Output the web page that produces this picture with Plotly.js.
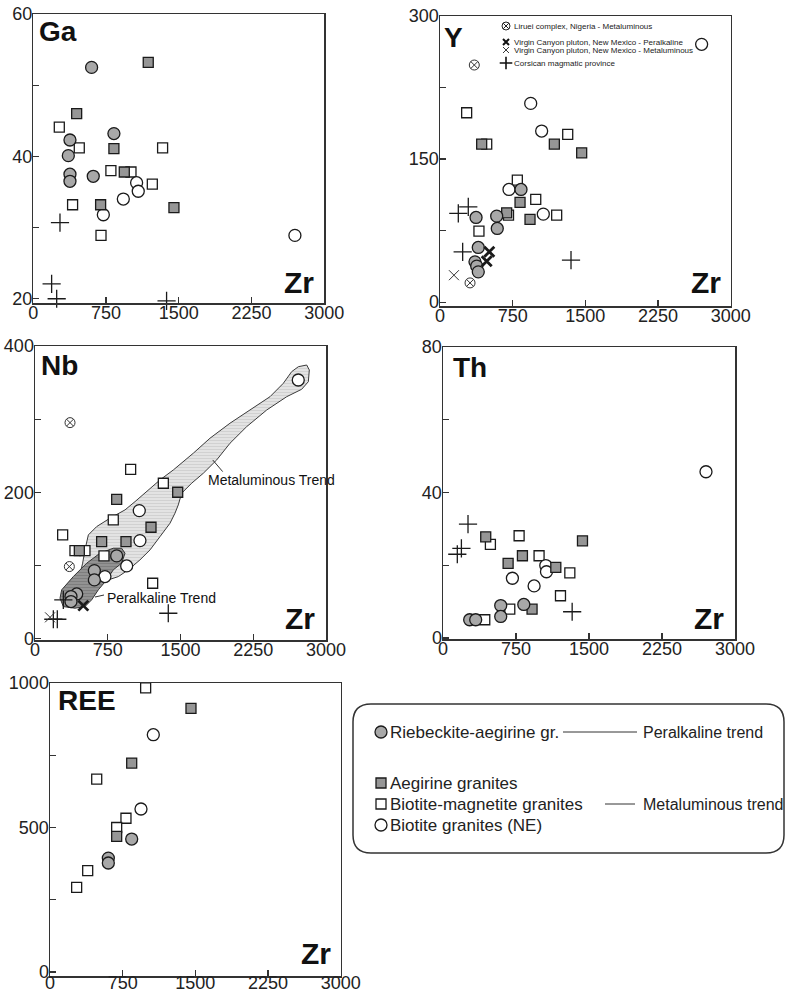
<!DOCTYPE html>
<html>
<head>
<meta charset="utf-8">
<script src="https://cdn.plot.ly/plotly-3.0.1.min.js"></script>
<style>html,body{margin:0;padding:0;background:#fff;}#chart{width:786px;height:993px;}</style>
</head>
<body>
<div id="chart"></div>
<script>
// ---------------- DATA ----------------
const zrTicks = [0, 750, 1500, 2250, 3000];
const zrTickText = ['0', '750', '1500', '2250', '3000'];

// Ga vs Zr
const gaRiebZr = [601, 831, 378, 361, 378, 378, 618];
const gaRiebV  = [52.5, 43.2, 42.3, 40.1, 37.5, 36.5, 37.2];
const gaAegZr  = [1185, 447, 831, 938, 694, 1450];
const gaAegV   = [53.2, 46.0, 41.1, 37.8, 33.2, 32.8];
const gaBmZr   = [268, 474, 1333, 800, 1007, 1227, 405, 698];
const gaBmV    = [44.1, 41.2, 41.2, 38.0, 37.8, 36.1, 33.2, 28.9];
const gaBgZr   = [1065, 1082, 928, 722, 2697];
const gaBgV    = [36.3, 35.1, 34.0, 31.8, 28.9];
const gaCorZr  = [275, 189, 241, 1374];
const gaCorV   = [30.7, 22.1, 20.0, 19.7];
const gaTicks = [20, 30, 40, 50, 60];
const gaTickText = ['20', '', '40', '', '60'];

// Y vs Zr
const yRiebZr = [372, 395, 361, 379, 395, 585, 591, 836];
const yRiebV  = [88.8, 57.4, 42.3, 37.8, 31.8, 90.2, 77.3, 118.2];
const yAegZr  = [430, 1180, 1462, 688, 826, 929];
const yAegV   = [165.7, 165.7, 156.6, 93.7, 104.6, 86.8];
const yBmZr   = [275, 482, 1318, 798, 988, 1204, 707, 402];
const yBmV    = [198.6, 165.7, 175.9, 128.0, 107.7, 91.3, 91.3, 74.5];
const yBgZr   = [2700, 936, 1049, 712, 1066];
const yBgV    = [270.3, 208.4, 179.4, 118.2, 92.3];
const yLirZr  = [354, 310];
const yLirV   = [248.6, 20.2];
const yCorZr  = [189, 292, 234, 1352];
const yCorV   = [93.0, 100.0, 52.8, 44.0];
const yVcpZr  = [509, 482];
const yVcpV   = [52.8, 43.0];
const yVcmZr  = [144];
const yVcmV   = [28.3];
const yTicks = [0, 75, 150, 225, 300];
const yTickText = ['0', '', '150', '', '300'];

// Nb vs Zr
const nbRiebZr = [842, 612, 612, 430, 371, 371];
const nbRiebV  = [113.0, 92.9, 80.2, 61.0, 57.4, 50.6];
const nbAegZr  = [842, 1471, 1196, 687, 938, 457];
const nbAegV   = [190.4, 200.0, 152.2, 132.6, 132.6, 120.3];
const nbBmZr   = [986, 1323, 807, 285, 412, 515, 711, 1213];
const nbBmV    = [231.4, 212.3, 162.2, 141.7, 120.3, 120.3, 113.0, 75.6];
const nbBgZr   = [2714, 1075, 1082, 945, 721];
const nbBgV    = [353.5, 174.9, 133.9, 99.3, 84.7];
const nbLirZr  = [361, 354];
const nbLirV   = [295.2, 98.4];
const nbCorZr  = [292, 189, 230, 1374];
const nbCorV   = [52.8, 26.4, 26.4, 34.6];
const nbVcpZr  = [498];
const nbVcpV   = [45.0];
const nbVcmZr  = [155];
const nbVcmV   = [29.0];
const nbTicks = [0, 100, 200, 300, 400];
const nbTickText = ['0', '', '200', '', '400'];
// trend fields (outline vertices, Zr / Nb)
const metaTrendZr = [491, 515, 550, 636, 773, 928, 1031, 1151, 1289, 1426, 1632, 1804, 2010, 2216, 2423, 2560, 2646, 2715, 2801, 2828, 2818, 2749,
                     2595, 2389, 2182, 2010, 1873, 1735, 1615, 1512, 1477, 1443, 1392, 1289, 1186, 1082, 962, 859, 756, 636, 533, 471, 491];
const metaTrendNb = [103.0, 121.2, 141.7, 153.1, 164.5, 175.9, 187.2, 200.9, 216.9, 230.5, 253.4, 273.9, 294.4, 312.5, 330.7, 349.0, 364.9, 371.7, 374.0, 367.2, 351.2, 340.8,
                     330.7, 312.5, 289.7, 267.0, 244.2, 226.0, 212.4, 198.7, 182.7, 171.4, 157.7, 139.4, 121.2, 107.5, 93.9, 84.7, 80.2, 77.9, 80.2, 91.6, 103.0];
const peraTrendZr = [275, 395, 533, 670, 807, 893, 928, 893, 807, 739, 653, 584, 515, 412, 292, 258, 275];
const peraTrendNb = [66.6, 84.7, 103.0, 116.7, 123.5, 123.5, 116.7, 103.0, 93.9, 80.2, 66.6, 52.9, 43.7, 41.5, 43.7, 55.2, 66.6];
const metaLeaderZr = [1832, 1935];
const metaLeaderNb = [244.2, 228.2];

// Th vs Zr
const thRiebZr = [593, 593, 830, 274, 336];
const thRiebV  = [8.9, 5.9, 9.2, 5.0, 5.0];
const thAegZr  = [439, 1433, 816, 669, 1159, 915];
const thAegV   = [27.8, 26.7, 22.6, 20.5, 19.4, 7.9];
const thBmZr   = [782, 487, 987, 1303, 1207, 686, 429];
const thBmV    = [28.1, 25.7, 22.6, 17.9, 11.6, 7.9, 5.0];
const thBgZr   = [2702, 1056, 1063, 713, 936];
const thBgV    = [45.7, 19.9, 18.2, 16.4, 14.3];
const thCorZr  = [257, 189, 147, 1327];
const thCorV   = [31.3, 24.6, 23.0, 7.2];
const thTicks = [0, 20, 40, 60, 80];
const thTickText = ['0', '', '40', '', '80'];

// REE vs Zr
const reeRiebZr = [843, 602, 602];
const reeRiebV  = [460, 394, 377];
const reeAegZr  = [1455, 843, 688];
const reeAegV   = [912, 723, 469];
const reeBmZr   = [987, 482, 784, 688, 389, 275];
const reeBmV    = [983, 667, 532, 500, 351, 293];
const reeBgZr   = [1066, 939];
const reeBgV    = [821, 564];
const reeTicks = [0, 250, 500, 750, 1000];
const reeTickText = ['0', '', '500', '', '1000'];

// legend texts
const legendMain = ['Riebeckite-aegirine gr.', 'Aegirine granites', 'Biotite-magnetite granites', 'Biotite granites (NE)'];
const legendTrends = ['Peralkaline trend', 'Metaluminous trend'];
const legendSmall = ['Liruei complex, Nigeria - Metaluminous', 'Virgin Canyon pluton, New Mexico - Peralkaline', 'Virgin Canyon pluton, New Mexico - Metaluminous', 'Corsican magmatic province'];

// ---------------- LAYOUT / STYLE ----------------
const W = 786, H = 993;
const FONT = 'Liberation Sans, Arial, Helvetica, sans-serif';
const INK = '#1a1a1a';

const S_RIEB = {symbol: 'circle', size: 12, color: '#a8a8a8', line: {color: INK, width: 1.3}};
const S_AEG  = {symbol: 'square', size: 10, color: '#969696', line: {color: INK, width: 1.3}};
const S_BM   = {symbol: 'square', size: 10, color: '#ffffff', line: {color: INK, width: 1.3}};
const S_BG   = {symbol: 'circle', size: 12, color: '#ffffff', line: {color: INK, width: 1.3}};
const S_LIR  = {symbol: 'circle-x-open', size: 10, color: '#333', line: {width: 1}};
const S_COR  = {symbol: 'cross-thin-open', size: 13, color: INK, line: {width: 1.3}};
const S_VCP  = {symbol: 'x-thin-open', size: 10, color: INK, line: {width: 2.8}};
const S_VCM  = {symbol: 'x-thin-open', size: 10, color: '#333', line: {width: 1}};

// panel frames in pixels [left, right, top, bottom]
const boxes = {
  1: [33.3, 324.3, 14, 303],
  2: [440, 730.7, 16, 306],
  3: [35, 326, 346, 640],
  4: [443, 735, 347, 639],
  5: [50, 340.7, 683, 976]
};
const yRanges = {1: [19.4, 60], 2: [-4, 300], 3: [-2, 400], 4: [-0.3, 80], 5: [-14, 1000]};
const yTickSets = {1: [gaTicks, gaTickText], 2: [yTicks, yTickText], 3: [nbTicks, nbTickText], 4: [thTicks, thTickText], 5: [reeTicks, reeTickText]};
const xStandoff = {1: -7, 2: -7, 3: -7, 4: -7, 5: -10};

const layout = {
  width: W, height: H,
  margin: {l: 0, r: 0, t: 0, b: 0},
  paper_bgcolor: '#ffffff',
  plot_bgcolor: 'rgba(0,0,0,0)',
  showlegend: false,
  font: {family: FONT, color: '#222'},
  annotations: [],
  shapes: []
};
const tickFont = {family: FONT, size: 18, color: '#222'};
for (let i = 1; i <= 5; i++) {
  const b = boxes[i];
  const sfx = i === 1 ? '' : String(i);
  layout['xaxis' + sfx] = {
    domain: [b[0] / W, b[1] / W], range: [0, 3000], anchor: 'y' + sfx,
    tickmode: 'array', tickvals: zrTicks, ticktext: zrTickText,
    ticks: 'inside', ticklen: 6, tickwidth: 1.2, tickcolor: '#333',
    showline: true, mirror: true, linecolor: '#333', linewidth: 1.5,
    showgrid: false, zeroline: false, tickfont: tickFont, fixedrange: true,
    ticklabelstandoff: xStandoff[i]
  };
  layout['yaxis' + sfx] = {
    domain: [1 - b[3] / H, 1 - b[2] / H], range: yRanges[i], anchor: 'x' + sfx,
    tickmode: 'array', tickvals: yTickSets[i][0], ticktext: yTickSets[i][1],
    ticks: 'inside', ticklen: 6, tickwidth: 1.2, tickcolor: '#333',
    showline: true, mirror: true, linecolor: '#333', linewidth: 1.5,
    showgrid: false, zeroline: false, tickfont: tickFont, fixedrange: true,
    ticklabelstandoff: -4
  };
}
// overlay pixel axis for labels / legend keys
layout.xaxis6 = {domain: [0, 1], range: [0, W], anchor: 'y6', visible: false, fixedrange: true};
layout.yaxis6 = {domain: [0, 1], range: [H, 0], anchor: 'x6', visible: false, fixedrange: true};

const traces = [];
function pts(i, xs, ys, m) {
  const sfx = i === 1 ? '' : String(i);
  traces.push({type: 'scatter', mode: 'markers', x: xs, y: ys, xaxis: 'x' + sfx, yaxis: 'y' + sfx,
    marker: m, cliponaxis: false, hoverinfo: 'skip'});
}

// Nb trend fields first (underneath)
traces.push({type: 'scatter', mode: 'lines', x: metaTrendZr, y: metaTrendNb, xaxis: 'x3', yaxis: 'y3',
  fill: 'toself', fillcolor: '#e0e0e0',
  fillpattern: {shape: '-', bgcolor: '#e3e3e3', fgcolor: '#cfcfcf', size: 3, solidity: 0.3},
  line: {color: '#3a3a3a', width: 1}, hoverinfo: 'skip'});
traces.push({type: 'scatter', mode: 'lines', x: peraTrendZr, y: peraTrendNb, xaxis: 'x3', yaxis: 'y3',
  fill: 'toself', fillcolor: '#8e8e8e',
  fillpattern: {shape: '-', bgcolor: '#929292', fgcolor: '#7c7c7c', size: 3, solidity: 0.3},
  line: {color: '#333', width: 1}, hoverinfo: 'skip'});
traces.push({type: 'scatter', mode: 'lines', x: metaLeaderZr, y: metaLeaderNb, xaxis: 'x3', yaxis: 'y3',
  line: {color: '#333', width: 1}, hoverinfo: 'skip'});

// panel 1 Ga
pts(1, gaBmZr, gaBmV, S_BM); pts(1, gaBgZr, gaBgV, S_BG); pts(1, gaAegZr, gaAegV, S_AEG);
pts(1, gaRiebZr, gaRiebV, S_RIEB); pts(1, gaCorZr, gaCorV, S_COR);
// panel 2 Y
pts(2, yBmZr, yBmV, S_BM); pts(2, yBgZr, yBgV, S_BG); pts(2, yAegZr, yAegV, S_AEG);
pts(2, yRiebZr, yRiebV, S_RIEB); pts(2, yLirZr, yLirV, S_LIR); pts(2, yCorZr, yCorV, S_COR);
pts(2, yVcpZr, yVcpV, S_VCP); pts(2, yVcmZr, yVcmV, S_VCM);
// panel 3 Nb
pts(3, nbBmZr, nbBmV, S_BM); pts(3, nbBgZr, nbBgV, S_BG); pts(3, nbAegZr, nbAegV, S_AEG);
pts(3, nbRiebZr, nbRiebV, S_RIEB); pts(3, nbLirZr, nbLirV, S_LIR); pts(3, nbCorZr, nbCorV, S_COR);
pts(3, nbVcpZr, nbVcpV, S_VCP); pts(3, nbVcmZr, nbVcmV, S_VCM);
// panel 4 Th
pts(4, thBmZr, thBmV, S_BM); pts(4, thBgZr, thBgV, S_BG); pts(4, thAegZr, thAegV, S_AEG);
pts(4, thRiebZr, thRiebV, S_RIEB); pts(4, thCorZr, thCorV, S_COR);
// panel 5 REE
pts(5, reeBmZr, reeBmV, S_BM); pts(5, reeBgZr, reeBgV, S_BG); pts(5, reeAegZr, reeAegV, S_AEG);
pts(5, reeRiebZr, reeRiebV, S_RIEB);

// ---------- labels (pixel overlay) ----------
function ann(text, x, y, xanchor, size, bold, extra) {
  layout.annotations.push(Object.assign({
    text: bold ? '<b>' + text + '</b>' : text, x: x, y: y, xref: 'x6', yref: 'y6',
    xanchor: xanchor, yanchor: 'middle', showarrow: false,
    font: {family: FONT, size: size, color: '#111'}
  }, extra || {}));
}
const panelLabels = [['Ga', 37, 31], ['Y', 442, 37], ['Nb', 39, 365], ['Th', 451, 367], ['REE', 56, 700]];
panelLabels.forEach(p => ann(p[0], p[1], p[2], 'left', 28, true));
const zrLabels = [[316, 282], [723, 282], [317, 618], [726, 618], [333, 953]];
zrLabels.forEach(p => ann('Zr', p[0], p[1], 'right', 30, true));

// trend labels in Nb panel
ann('Metaluminous Trend', 206, 480, 'left', 14, false);
ann('Peralkaline Trend', 105, 598, 'left', 14, false);
layout.shapes.push({type: 'line', xref: 'x6', yref: 'y6', x0: 95, y0: 597, x1: 104, y1: 595, line: {color: '#333', width: 1}});

// small legend inside Y panel
const smallY = [26, 42, 50, 63];
legendSmall.forEach((t, k) => ann(t, 512, smallY[k], 'left', 8, false, {font: {family: FONT, size: 8, color: '#222'}}));
traces.push({type: 'scatter', mode: 'markers', x: [506], y: [smallY[0]], xaxis: 'x6', yaxis: 'y6', cliponaxis: false, hoverinfo: 'skip',
  marker: {symbol: 'circle-x-open', size: 8, color: '#222', line: {width: 1}}});
traces.push({type: 'scatter', mode: 'markers', x: [506], y: [smallY[1]], xaxis: 'x6', yaxis: 'y6', cliponaxis: false, hoverinfo: 'skip',
  marker: {symbol: 'x-thin-open', size: 6, color: '#111', line: {width: 2}}});
traces.push({type: 'scatter', mode: 'markers', x: [506], y: [smallY[2]], xaxis: 'x6', yaxis: 'y6', cliponaxis: false, hoverinfo: 'skip',
  marker: {symbol: 'x-thin-open', size: 6, color: '#222', line: {width: 0.9}}});
traces.push({type: 'scatter', mode: 'markers', x: [506], y: [smallY[3]], xaxis: 'x6', yaxis: 'y6', cliponaxis: false, hoverinfo: 'skip',
  marker: {symbol: 'cross-thin-open', size: 9, color: '#111', line: {width: 1.6}}});

// main legend box
layout.shapes.push({type: 'path', xref: 'x6', yref: 'y6',
  path: 'M 371 704 L 766 704 Q 784 704 784 722 L 784 835 Q 784 853 766 853 L 371 853 Q 353 853 353 835 L 353 722 Q 353 704 371 704 Z',
  line: {color: '#333', width: 1.5}, fillcolor: 'rgba(0,0,0,0)'});
const legY = [732, 783, 804, 825];
const legStyles = [S_RIEB, S_AEG, S_BM, S_BG];
legendMain.forEach((t, k) => {
  ann(t, 388, legY[k], 'left', 17, false, {font: {family: FONT, size: 17, color: '#222'}});
  const m = Object.assign({}, legStyles[k]);
  m.size = legStyles[k].symbol === 'circle' ? 12 : 10;
  traces.push({type: 'scatter', mode: 'markers', x: [381], y: [legY[k]], xaxis: 'x6', yaxis: 'y6',
    cliponaxis: false, hoverinfo: 'skip', marker: m});
});
ann(legendTrends[0], 641, 732, 'left', 16, false, {font: {family: FONT, size: 16, color: '#222'}});
ann(legendTrends[1], 641, 804, 'left', 16, false, {font: {family: FONT, size: 16, color: '#222'}});
layout.shapes.push({type: 'line', xref: 'x6', yref: 'y6', x0: 563, y0: 732, x1: 637, y1: 732, line: {color: '#333', width: 1}});
layout.shapes.push({type: 'line', xref: 'x6', yref: 'y6', x0: 605, y0: 804, x1: 635, y1: 804, line: {color: '#333', width: 1}});

Plotly.newPlot('chart', traces, layout, {staticPlot: true, displayModeBar: false});
</script>
</body>
</html>
